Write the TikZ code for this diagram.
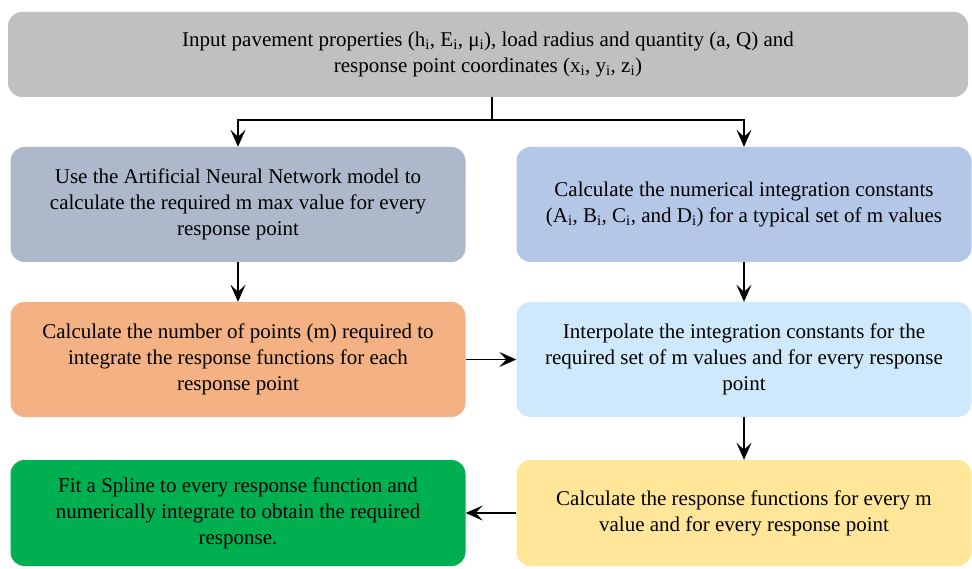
\documentclass[tikz,border=0pt]{standalone}
\usepackage{fontspec}
\setmainfont{Liberation Serif}
\usepackage{tikz}
\usetikzlibrary{arrows.meta}
\definecolor{boxgray}{HTML}{C0C0C0}
\definecolor{boxslate}{HTML}{ADB9CA}
\definecolor{boxblue}{HTML}{B4C7E7}
\definecolor{boxorange}{HTML}{F4B183}
\definecolor{boxsky}{HTML}{CDE9FB}
\definecolor{boxgreen}{HTML}{00B050}
\definecolor{boxyellow}{HTML}{FFE699}

\begin{document}
\begin{tikzpicture}[x=1pt,y=-1pt]
\useasboundingbox (0,0) rectangle (972,569);
%\tikzstyle{box}=[rounded corners,minimum width=450pt]
\begin{scope}[every node/.style={rounded corners=14pt,align=center,inner sep=0pt,
    minimum width=455pt,minimum height=115pt,font=\fontsize{21}{26}\selectfont}]
    \node[fill=boxgray,minimum width=960pt,minimum height=85pt] (a) at (488,54.5)
        {Input pavement properties (h\textsubscript{i}, E\textsubscript{i}, μ\textsubscript{i}), load radius and quantity (a, Q) and\\
         response point coordinates (x\textsubscript{i}, y\textsubscript{i}, z\textsubscript{i})};
    \node[fill=boxslate] (b) at (238,204.5)
        {Use the Artificial Neural Network model to\\calculate the required m max value for every\\response point};
    \node[fill=boxblue] (c) at (744,204.5)
        {Calculate the numerical integration constants\\(A\textsubscript{i}, B\textsubscript{i}, C\textsubscript{i}, and D\textsubscript{i}) for a typical set of m values};
    \node[fill=boxorange] (d) at (238,359.5)
        {Calculate the number of points (m) required to\\integrate the response functions for each\\response point};
    \node[fill=boxsky] (e) at (744,359.5)
        {Interpolate the integration constants for the\\required set of m values and for every response\\point};
    \node[fill=boxgreen,minimum height=106pt] (f) at (238,513)
        {Fit a Spline to every response function and\\numerically integrate to obtain the required\\response.};
    \node[fill=boxyellow,minimum height=106pt] (g) at (744,513)
        {Calculate the response functions for every m\\value and for every response point};
    \coordinate (s) at (492,120);
\end{scope}

\begin{scope}[>={Stealth[length=17pt,width=15pt,inset=7pt]},line width=1.1pt]
    \draw [-] (a.south -| s) -- (s);
    \draw [->] (s) -| (b.north);
    \draw [->] (s) -| (c.north);
    \path [->] (b) edge (d);
    \path [->] (c) edge (e);
    \path [->] (d) edge (e);
    \path [->] (e) edge (g);
    \path [->] (g) edge (f);
\end{scope}
\end{tikzpicture}
\end{document}
